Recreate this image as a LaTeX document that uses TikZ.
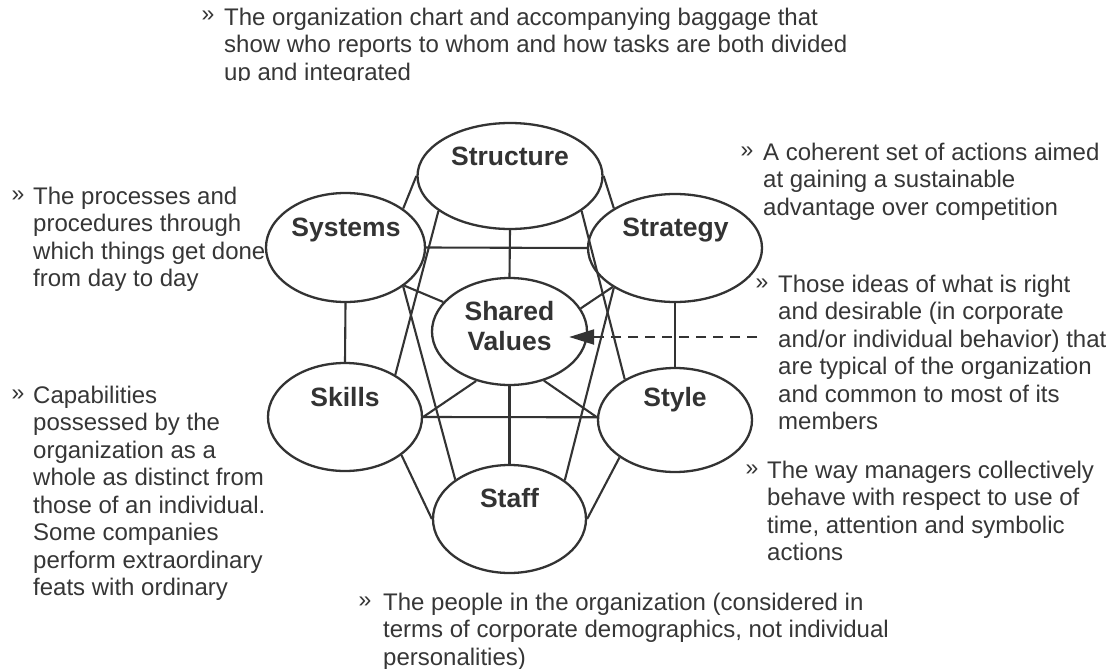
\documentclass[tikz,border=0pt]{standalone}
\usepackage{fontspec}
\setmainfont{Liberation Sans}
\usetikzlibrary{shapes.geometric,arrows.meta,calc}
\definecolor{ink}{HTML}{333333}
\definecolor{txt}{HTML}{363636}

\tikzset{
  elem/.style={ellipse, draw=ink, line width=2.3pt, fill=white, inner sep=0pt},
  elemlabel/.style={anchor=base, inner sep=0pt, text=ink,
                    font=\fontsize{26.5}{30}\selectfont\bfseries},
  link/.style={draw=ink, line width=2.1pt},
  note/.style={anchor=north west, inner sep=0pt, align=left, text=txt,
               font=\fontsize{24}{27.5}\selectfont},
  bulletmark/.style={anchor=base west, inner sep=0pt, text=txt,
                     font=\fontsize{23}{27.5}\selectfont},
  pointer/.style={draw=ink, line width=2.1pt, dash pattern=on 10pt off 7pt,
                  -{Triangle[length=25pt,width=15pt]}},
}

\begin{document}
\begin{tikzpicture}[x=1pt,y=-1pt]
\useasboundingbox (0,0) rectangle (1111,669);
\fill[white] (0,0) rectangle (1111,669);

% ---- the seven elements ----
\node[elem, minimum width=185pt, minimum height=106pt] (structure) at (510,176) {};
\node[elem, minimum width=159pt, minimum height=109pt] (systems)   at (345.5,247.5) {};
\node[elem, minimum width=174pt, minimum height=108pt] (strategy)  at (675,248) {};
\node[elem, minimum width=155pt, minimum height=107pt] (sv)        at (509.5,331.5) {};
\node[elem, minimum width=154pt, minimum height=108pt] (skills)    at (345,417) {};
\node[elem, minimum width=154pt, minimum height=104pt] (style)     at (675,420) {};
\node[elem, minimum width=153pt, minimum height=108pt] (staff)     at (509.5,519) {};

\node[elemlabel] (structure-t) at (510,165)   {Structure};
\node[elemlabel] (systems-t)   at (346,236.5) {Systems};
\node[elemlabel] (strategy-t)  at (675.5,236.5) {Strategy};
\node[elemlabel] (skills-t)    at (345,406.5) {Skills};
\node[elemlabel] (style-t)     at (675,406.5) {Style};
\node[elemlabel] (staff-t)     at (509.5,507.5) {Staff};
\node[elemlabel, anchor=north, align=center] (sv-t) at (509.5,299)
  {\strut Shared\\Values};

% ---- connections ----
\draw[link] (structure.180) -- (systems.34);
\draw[link] (structure.0)   -- (strategy.147);
\draw[link] (structure.270) -- (sv.90);
\draw[link] (structure.206) -- (skills.40);
\draw[link] (structure.334) -- (style.141);
\draw[link] (systems.0)     -- (strategy.180);
\draw[link] (systems.270)   -- (skills.90);
\draw[link] (systems.327)   -- (sv.156);
\draw[link] (systems.326)   -- (staff.144);
\draw[link] (strategy.270)  -- (style.90);
\draw[link] (strategy.212)  -- (sv.18);
\draw[link] (strategy.213)  -- (staff.35);
\draw[link] (skills.0)      -- (style.178);
\draw[link] (skills.0)      -- (sv.236);
\draw[link] (skills.326)    -- (staff.180);
\draw[link] (style.178)     -- (sv.305);
\draw[link] (style.214)     -- (staff.0);
\draw[link] (sv.270)        -- (staff.90);

% ---- pointer to shared values ----
\coordinate (pstart) at (757,337);
\coordinate (ptip) at ($(sv.east)+(-19,5.5)$);
\draw[pointer] (pstart) -- (ptip);

% ---- descriptions ----
\begin{scope}
  \clip (0,0) rectangle (1111,81);
  \node[bulletmark] (b-structure) at (201.5,22) {»};
  \node[note] (n-structure) at (224,5.75)
    {\strut The organization chart and accompanying baggage that\\
     show who reports to whom and how tasks are both divided\\
     up and integrated};
\end{scope}

\node[bulletmark] (b-systems) at (11.5,201) {»};
\node[note] (n-systems) at (33,184.75)
  {\strut The processes and\\procedures through\\which things get done\\from day to day};

\begin{scope}
  \clip (0,370) rectangle (300,601);
  \node[bulletmark] (b-skills) at (11.5,400) {»};
  \node[note] (n-skills) at (33,383.75)
    {\strut Capabilities\\possessed by the\\organization as a\\whole as distinct from\\
     those of an individual.\\Some companies\\perform extraordinary\\feats with ordinary};
\end{scope}

\node[bulletmark] (b-strategy) at (740.5,157) {»};
\node[note] (n-strategy) at (763,140.75)
  {\strut A coherent set of actions aimed\\at gaining a sustainable\\advantage over competition};

\node[bulletmark] (b-values) at (755.5,289) {»};
\node[note] (n-values) at (778,272.75)
  {\strut Those ideas of what is right\\and desirable (in corporate\\and/or individual behavior) that\\
   are typical of the organization\\and common to most of its\\members};

\node[bulletmark] (b-style) at (745.5,475) {»};
\node[note] (n-style) at (767,458.75)
  {\strut The way managers collectively\\behave with respect to use of\\time, attention and symbolic\\actions};

\node[bulletmark] (b-staff) at (358.5,607) {»};
\node[note] (n-staff) at (383,590.75)
  {\strut The people in the organization (considered in\\
   terms of corporate demographics, not individual\\personalities)};
\end{tikzpicture}
\end{document}
